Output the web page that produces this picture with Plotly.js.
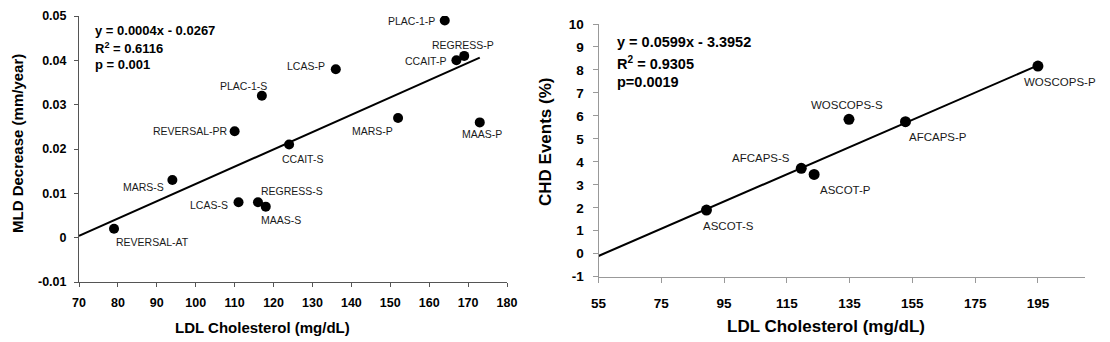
<!DOCTYPE html>
<html><head><meta charset="utf-8">
<script src="https://cdn.plot.ly/plotly-3.0.1.min.js"></script>
<style>html,body{margin:0;padding:0;background:#fff}#chart{width:1110px;height:342px}</style>
</head><body><div id="chart"></div>
<script>
// ---- Left panel: angiographic trials (MLD decrease vs LDL) ----
const mldStudies = ['REVERSAL-AT','MARS-S','REVERSAL-PR','PLAC-1-S','LCAS-S','REGRESS-S','MAAS-S','CCAIT-S','LCAS-P','PLAC-1-P','REGRESS-P','CCAIT-P','MARS-P','MAAS-P'];
const mldLDL = [79, 94, 110, 117, 111, 116, 118, 124, 136, 164, 169, 167, 152, 173];
const mldDecrease = [0.002, 0.013, 0.024, 0.032, 0.008, 0.008, 0.007, 0.021, 0.038, 0.049, 0.041, 0.040, 0.027, 0.026];
const mldTrendX = [70, 173];
const mldTrendY = [0.0004, 0.0406];
const mldXTicks = [70, 80, 90, 100, 110, 120, 130, 140, 150, 160, 170, 180];
const mldYTicks = [-0.01, 0, 0.01, 0.02, 0.03, 0.04, 0.05];
const mldYTickText = ['-0.01', '0', '0.01', '0.02', '0.03', '0.04', '0.05'];
const mldStats = ['y = 0.0004x - 0.0267', 'R<sup>2</sup> = 0.6116', 'p = 0.001'];
const mldXTitle = 'LDL Cholesterol (mg/dL)';
const mldYTitle = 'MLD Decrease (mm/year)';

// ---- Right panel: CHD events vs LDL ----
const chdStudies = ['ASCOT-S','AFCAPS-S','ASCOT-P','WOSCOPS-S','AFCAPS-P','WOSCOPS-P'];
const chdLDL = [89.4, 119.6, 123.7, 134.8, 152.8, 195];
const chdEvents = [1.9, 3.72, 3.45, 5.85, 5.75, 8.17];
const chdTrendX = [55, 195];
const chdTrendY = [-0.1, 8.2];
const chdXTicks = [55, 75, 95, 115, 135, 155, 175, 195];
const chdYTicks = [-1, 0, 1, 2, 3, 4, 5, 6, 7, 8, 9, 10];
const chdYTickText = ['-1', '0', '1', '2', '3', '4', '5', '6', '7', '8', '9', '10'];
const chdStats = ['y = 0.0599x - 3.3952', 'R<sup>2</sup> = 0.9305', 'p=0.0019'];
const chdXTitle = 'LDL Cholesterol (mg/dL)';
const chdYTitle = 'CHD Events (%)';

// ---- label placement (style only): [xanchor, dx px, dy px (down +)] ----
const mldLabelPlace = [
  ['left', 0, 12.7], ['right', -6.6, 6.7], ['right', -5, 0], ['right', 7.6, -9.7],
  ['right', -8.3, 2.3], ['left', 0.6, -11.7], ['left', -6.4, 13], ['left', -9, 14.3],
  ['right', -8.4, -3.7], ['right', -7.3, 1], ['center', -1.6, -11], ['right', -8.3, 0.7],
  ['right', -2.7, 13], ['center', 2, 11.7]
];
const chdLabelPlace = [
  ['left', -5, 16], ['right', -9, -10.7], ['left', 4.3, 15.7],
  ['center', -1.7, -14.7], ['left', 1.7, 15.3], ['left', -15.6, 16.3]
];

const FONT = 'Liberation Sans, Arial, Helvetica, sans-serif';
const W = 1110, H = 342;
const px = x => x / W;
const py = y => (H - y) / H;

const traces = [
  {x: mldTrendX, y: mldTrendY, xaxis: 'x', yaxis: 'y', mode: 'lines',
   line: {color: '#000', width: 2}, hoverinfo: 'skip'},
  {x: mldLDL, y: mldDecrease, xaxis: 'x', yaxis: 'y', mode: 'markers',
   marker: {color: '#000', size: 10}},
  {x: chdTrendX, y: chdTrendY, xaxis: 'x2', yaxis: 'y2', mode: 'lines',
   line: {color: '#000', width: 2}, hoverinfo: 'skip'},
  {x: chdLDL, y: chdEvents, xaxis: 'x2', yaxis: 'y2', mode: 'markers',
   marker: {color: '#000', size: 11}}
];

const annotations = [];
mldStudies.forEach((s, i) => {
  const p = mldLabelPlace[i];
  annotations.push({xref: 'x', yref: 'y', x: mldLDL[i], y: mldDecrease[i], text: s,
    showarrow: false, xanchor: p[0], yanchor: 'middle', xshift: p[1], yshift: -p[2],
    font: {family: FONT, size: 10.5, color: '#1a1a1a'}});
});
chdStudies.forEach((s, i) => {
  const p = chdLabelPlace[i];
  annotations.push({xref: 'x2', yref: 'y2', x: chdLDL[i], y: chdEvents[i], text: s,
    showarrow: false, xanchor: p[0], yanchor: 'middle', xshift: p[1], yshift: -p[2],
    font: {family: FONT, size: 11.5, color: '#1a1a1a'}});
});
const mldStatY = [30.7, 48.3, 65];
mldStats.forEach((t, i) => annotations.push({xref: 'paper', yref: 'paper', x: px(93), y: py(mldStatY[i]),
  text: t, showarrow: false, xanchor: 'left', yanchor: 'middle',
  font: {family: FONT, size: 13, weight: 'bold', color: '#000'}}));
const chdStatY = [41.7, 62.7, 82.2];
chdStats.forEach((t, i) => annotations.push({xref: 'paper', yref: 'paper', x: px(615), y: py(chdStatY[i]),
  text: t, showarrow: false, xanchor: 'left', yanchor: 'middle',
  font: {family: FONT, size: 14.5, weight: 'bold', color: '#000'}}));
// axis titles
annotations.push({xref: 'paper', yref: 'paper', x: px(262.5), y: py(327), text: mldXTitle, showarrow: false,
  xanchor: 'center', yanchor: 'middle', font: {family: FONT, size: 15, weight: 'bold', color: '#000'}});
annotations.push({xref: 'paper', yref: 'paper', x: px(17), y: py(144), text: mldYTitle, showarrow: false,
  textangle: -90, xanchor: 'center', yanchor: 'middle', font: {family: FONT, size: 15, weight: 'bold', color: '#000'}});
annotations.push({xref: 'paper', yref: 'paper', x: px(826), y: py(326), text: chdXTitle, showarrow: false,
  xanchor: 'center', yanchor: 'middle', font: {family: FONT, size: 17, weight: 'bold', color: '#000'}});
annotations.push({xref: 'paper', yref: 'paper', x: px(545), y: py(142), text: chdYTitle, showarrow: false,
  textangle: -90, xanchor: 'center', yanchor: 'middle', font: {family: FONT, size: 17, weight: 'bold', color: '#000'}});

const axisCommon = {showgrid: false, zeroline: false, showline: true, linewidth: 1,
  ticks: 'outside', ticklen: 4, tickwidth: 1, fixedrange: true};

const layout = {
  width: W, height: H, margin: {l: 0, r: 0, t: 0, b: 0},
  paper_bgcolor: '#fff', plot_bgcolor: '#fff', showlegend: false,
  xaxis: Object.assign({}, axisCommon, {domain: [px(79), px(507)], range: [70, 180], anchor: 'y',
    tickmode: 'array', tickvals: mldXTicks, linecolor: '#555', tickcolor: '#555', ticklabelstandoff: 5,
    tickfont: {family: FONT, size: 12.5, weight: 'bold', color: '#000'}}),
  yaxis: Object.assign({}, axisCommon, {domain: [py(282), py(16)], range: [-0.01, 0.05], anchor: 'x',
    tickmode: 'array', tickvals: mldYTicks, ticktext: mldYTickText, linecolor: '#555', tickcolor: '#555', ticklabelstandoff: 5,
    tickfont: {family: FONT, size: 12.5, weight: 'bold', color: '#000'}}),
  xaxis2: Object.assign({}, axisCommon, {domain: [px(598.5), px(1085)], range: [55, 210], anchor: 'y2',
    tickmode: 'array', tickvals: chdXTicks, linecolor: '#999', tickcolor: '#999', ticklen: 5, ticklabelstandoff: 9,
    tickfont: {family: FONT, size: 13.5, weight: 'bold', color: '#000'}}),
  yaxis2: Object.assign({}, axisCommon, {domain: [py(276.7), py(24)], range: [-1, 10], anchor: 'x2',
    tickmode: 'array', tickvals: chdYTicks, ticktext: chdYTickText, linecolor: '#999', tickcolor: '#999', ticklen: 5, ticklabelstandoff: 6,
    tickfont: {family: FONT, size: 13.5, weight: 'bold', color: '#000'}}),
  annotations: annotations
};

Plotly.newPlot('chart', traces, layout, {displayModeBar: false, staticPlot: true});
</script>
</body></html>
